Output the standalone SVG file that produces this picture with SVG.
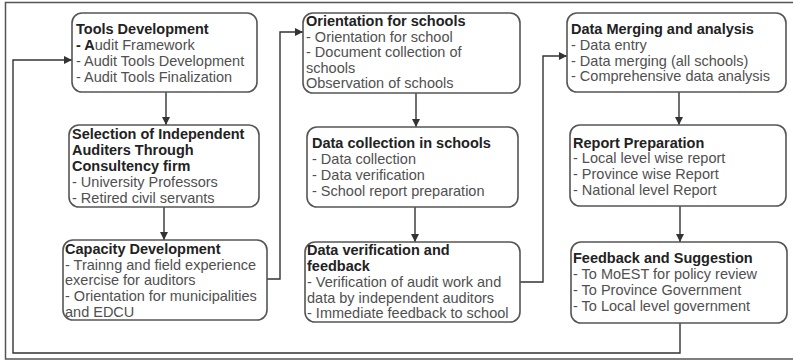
<svg xmlns="http://www.w3.org/2000/svg" width="793" height="361" viewBox="0 0 793 361">
<style>
  .box { fill: #ffffff; stroke: #555555; stroke-width: 1.6; }
  .t { font-family: "Liberation Sans", Arial, sans-serif; font-size: 14.5px; fill: #505050; }
  .h { font-weight: bold; fill: #222222; }
  .conn { fill: none; stroke: #333333; stroke-width: 1.4; }
  .frame { fill: none; stroke: #555555; stroke-width: 1.5; }
</style>
<defs>
  <marker id="arr" markerUnits="userSpaceOnUse" markerWidth="10" markerHeight="10" refX="8" refY="4" orient="auto">
    <path d="M0,0 L8,4 L0,8 z" fill="#333333"/>
  </marker>
</defs>
<rect width="793" height="361" fill="#ffffff"/>
<path class="frame" d="M795 2.5 H5.5 V359 H795"/>

<g id="connectors">
  <path class="conn" d="M166 92 V125" marker-end="url(#arr)"/>
  <path class="conn" d="M164 207 V240" marker-end="url(#arr)"/>
  <path class="conn" d="M267 279 H280 V32 H303" marker-end="url(#arr)"/>
  <path class="conn" d="M416 93 V127" marker-end="url(#arr)"/>
  <path class="conn" d="M415 207 V242" marker-end="url(#arr)"/>
  <path class="conn" d="M520 282 H543 V56 H567" marker-end="url(#arr)"/>
  <path class="conn" d="M679 92 V125" marker-end="url(#arr)"/>
  <path class="conn" d="M680 206 V242" marker-end="url(#arr)"/>
  <path class="conn" d="M680 323 V353 H13 V60 H72" marker-end="url(#arr)"/>
</g>

<g id="tools-development">
  <rect class="box" x="72" y="13" width="185" height="79" rx="10"/>
  <text class="t" x="76" y="34"><tspan class="h">Tools Development</tspan></text>
  <text class="t" x="76" y="50"><tspan class="h">- A</tspan>udit Framework</text>
  <text class="t" x="76" y="66">- Audit Tools Development</text>
  <text class="t" x="76" y="82">- Audit Tools Finalization</text>
</g>

<g id="selection-auditors">
  <rect class="box" x="69" y="125" width="190" height="82" rx="10"/>
  <text class="t h" x="72" y="139">Selection of Independent</text>
  <text class="t h" x="72" y="155">Auditers Through</text>
  <text class="t h" x="72" y="171">Consultency firm</text>
  <text class="t" x="72" y="187">- University Professors</text>
  <text class="t" x="72" y="203">- Retired civil servants</text>
</g>

<g id="capacity-development">
  <rect class="box" x="63" y="240" width="204" height="80" rx="10"/>
  <text class="t h" x="65" y="254">Capacity Development</text>
  <text class="t" x="65" y="270">- Trainng and field experience</text>
  <text class="t" x="65" y="285">exercise for auditors</text>
  <text class="t" x="65" y="301">- Orientation for municipalities</text>
  <text class="t" x="65" y="317">and EDCU</text>
</g>

<g id="orientation-schools">
  <rect class="box" x="303" y="13" width="217" height="80" rx="10"/>
  <text class="t h" x="306" y="26">Orientation for schools</text>
  <text class="t" x="306" y="42">- Orientation for school</text>
  <text class="t" x="306" y="57">- Document collection of</text>
  <text class="t" x="306" y="73">schools</text>
  <text class="t" x="306" y="88">Observation of schools</text>
</g>

<g id="data-collection">
  <rect class="box" x="307" y="127" width="211" height="80" rx="10"/>
  <text class="t h" x="312" y="148">Data collection in schools</text>
  <text class="t" x="312" y="164">- Data collection</text>
  <text class="t" x="312" y="180">- Data verification</text>
  <text class="t" x="312" y="196">- School report preparation</text>
</g>

<g id="data-verification">
  <rect class="box" x="305" y="242" width="215" height="80" rx="10"/>
  <text class="t h" x="307" y="255">Data verification and</text>
  <text class="t h" x="307" y="271">feedback</text>
  <text class="t" x="307" y="287">- Verification of audit work and</text>
  <text class="t" x="307" y="303">data by independent auditors</text>
  <text class="t" x="307" y="318">- Immediate feedback to school</text>
</g>

<g id="data-merging">
  <rect class="box" x="567" y="13" width="219" height="79" rx="10"/>
  <text class="t h" x="571" y="34">Data Merging and analysis</text>
  <text class="t" x="571" y="50">- Data entry</text>
  <text class="t" x="571" y="66">- Data merging (all schools)</text>
  <text class="t" x="571" y="81">- Comprehensive data analysis</text>
</g>

<g id="report-preparation">
  <rect class="box" x="570" y="125" width="216" height="81" rx="10"/>
  <text class="t h" x="573" y="148">Report Preparation</text>
  <text class="t" x="573" y="163">- Local level wise report</text>
  <text class="t" x="573" y="179">- Province wise Report</text>
  <text class="t" x="573" y="195">- National level Report</text>
</g>

<g id="feedback-suggestion">
  <rect class="box" x="571" y="242" width="216" height="81" rx="10"/>
  <text class="t h" x="573" y="263">Feedback and Suggestion</text>
  <text class="t" x="573" y="279">- To MoEST for policy review</text>
  <text class="t" x="573" y="295">- To Province Government</text>
  <text class="t" x="573" y="311">- To Local level government</text>
</g>
</svg>
